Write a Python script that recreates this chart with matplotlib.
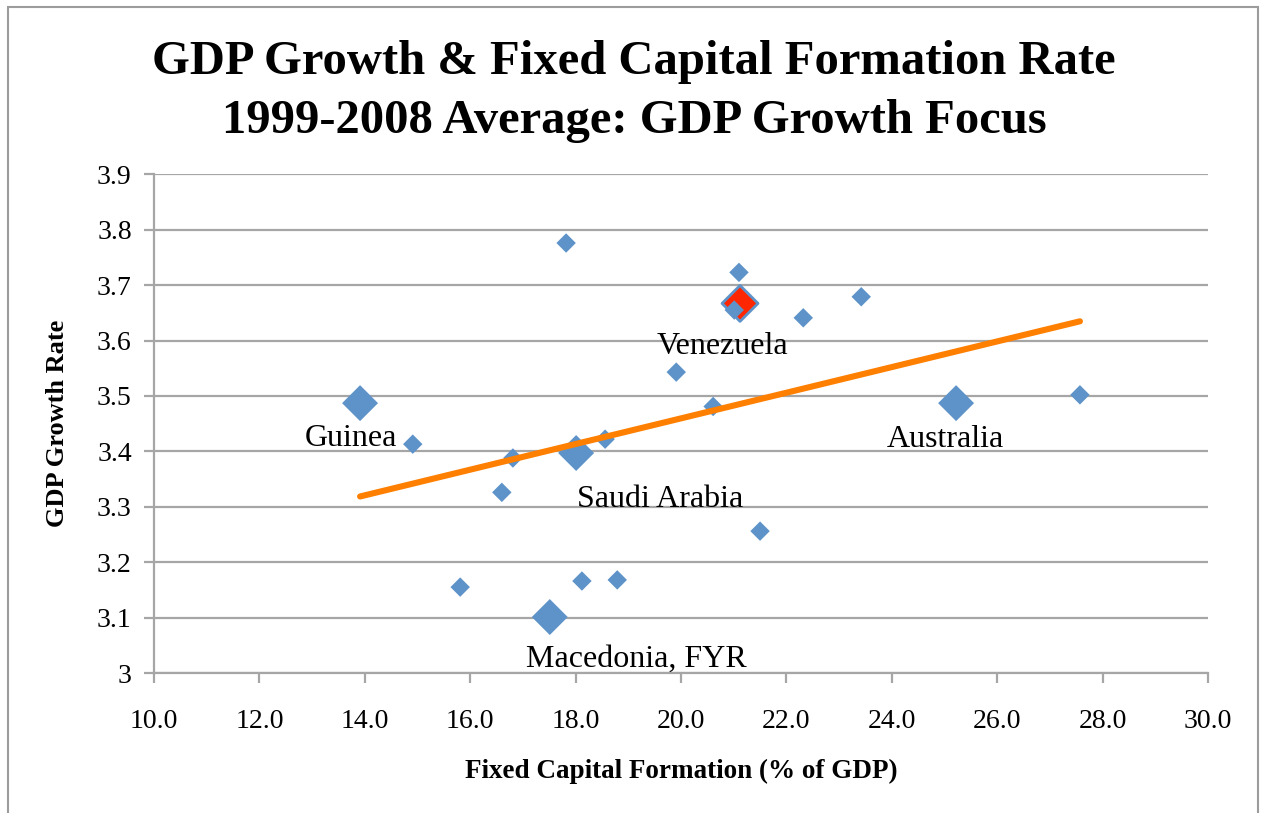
import numpy as np
import matplotlib
matplotlib.use("Agg")
import matplotlib.pyplot as plt
from matplotlib.patches import Rectangle

# ---- data ----
fcf = [17.82, 21.10, 21.12, 21.01, 22.32, 23.42, 19.91, 20.61, 13.91, 14.91,
       16.81, 16.60, 18.01, 18.56, 15.81, 17.51, 18.12, 18.79, 25.22, 27.57, 21.50]
gdp = [3.776, 3.723, 3.667, 3.655, 3.641, 3.679, 3.543, 3.481, 3.487, 3.413,
       3.388, 3.326, 3.397, 3.422, 3.155, 3.101, 3.166, 3.168, 3.487, 3.502, 3.256]
country = ["", "", "Venezuela", "", "", "", "", "", "Guinea", "",
           "", "", "Saudi Arabia", "", "", "Macedonia, FYR", "", "", "Australia", "", ""]
focus_name = "Venezuela"

x_ticks = [10, 12, 14, 16, 18, 20, 22, 24, 26, 28, 30]
y_ticks = [3.0, 3.1, 3.2, 3.3, 3.4, 3.5, 3.6, 3.7, 3.8, 3.9]
y_tick_labels = ["3", "3.1", "3.2", "3.3", "3.4", "3.5", "3.6", "3.7", "3.8", "3.9"]

# ---- style ----
BLUE = "#5E93C9"
RED = "#FF2600"
ORANGE = "#FF7F00"
GRID = "#A6A6A6"
SERIF = ["Liberation Serif", "DejaVu Serif"]

W, H = 1261, 813
fig = plt.figure(figsize=(W / 100, H / 100), dpi=100)
ax = fig.add_axes([154 / W, 1 - 673 / H, (1208 - 154) / W, (673 - 174.3) / H])

# border of the chart area
fig.add_artist(Rectangle((8 / W, -0.05), (1258 - 8) / W, 1.05 - 7 / H,
                         transform=fig.transFigure, fill=False,
                         edgecolor="#9C9C9C", linewidth=1.5, clip_on=False))

ax.set_xlim(10, 30)
ax.set_ylim(3.0, 3.9)
ax.set_yticks(y_ticks)
ax.set_yticklabels(y_tick_labels)
ax.set_xticks(x_ticks)
ax.set_xticklabels([f"{v:.1f}" for v in x_ticks])
ax.grid(axis="y", color=GRID, linewidth=1.6)
ax.set_axisbelow(True)
for s in ["top", "right"]:
    ax.spines[s].set_visible(False)
for s in ["left", "bottom"]:
    ax.spines[s].set_color(GRID)
    ax.spines[s].set_linewidth(1.6)
ax.tick_params(axis="both", color=GRID, width=1.6, length=7, direction="out",
               labelsize=20)
ax.tick_params(axis="x", pad=19)
ax.tick_params(axis="y", pad=9)
for lab in ax.get_xticklabels() + ax.get_yticklabels():
    lab.set_family(SERIF)

# points, drawn in series order (highlighted ones larger)
sizes = [335 if c else 98 for c in country]
faces = [RED if c == focus_name else BLUE for c in country]
edges = [BLUE if c == focus_name else "none" for c in country]
lws = [2.0 if c == focus_name else 0 for c in country]
ax.scatter(fcf, gdp, s=sizes, marker="D", c=faces, edgecolors=edges,
           linewidths=lws, zorder=4)

# linear trend line
coef = np.polyfit(fcf, gdp, 1)
xs = np.array([min(fcf), max(fcf)])
ax.plot(xs, np.polyval(coef, xs), color=ORANGE, linewidth=4.4,
        solid_capstyle="round", zorder=5)

# data labels (offsets in points)
lab_off = {"Guinea": (-6.5, -31), "Saudi Arabia": (60.5, -39),
           "Macedonia, FYR": (62.3, -36), "Australia": (-7.6, -31.7),
           "Venezuela": (-13, -36.7)}
for n, x, y in zip(country, fcf, gdp):
    if n:
        ax.annotate(n, (x, y), xytext=lab_off[n], textcoords="offset points",
                    ha="center", va="baseline", fontsize=23, family=SERIF,
                    zorder=6)

ax.set_xlabel("Fixed Capital Formation (% of GDP)", fontsize=19.5,
              fontweight="bold", family=SERIF, labelpad=18)
ax.set_ylabel("GDP Growth Rate", fontsize=19, fontweight="bold",
              family=SERIF, labelpad=20)

fig.text(634 / W, 1 - 62 / H, "GDP Growth & Fixed Capital Formation Rate",
         ha="center", va="center", fontsize=35, fontweight="bold", family=SERIF)
fig.text(634 / W, 1 - 121 / H, "1999-2008 Average: GDP Growth Focus",
         ha="center", va="center", fontsize=35, fontweight="bold", family=SERIF)

fig.savefig("out.png", dpi=100)
